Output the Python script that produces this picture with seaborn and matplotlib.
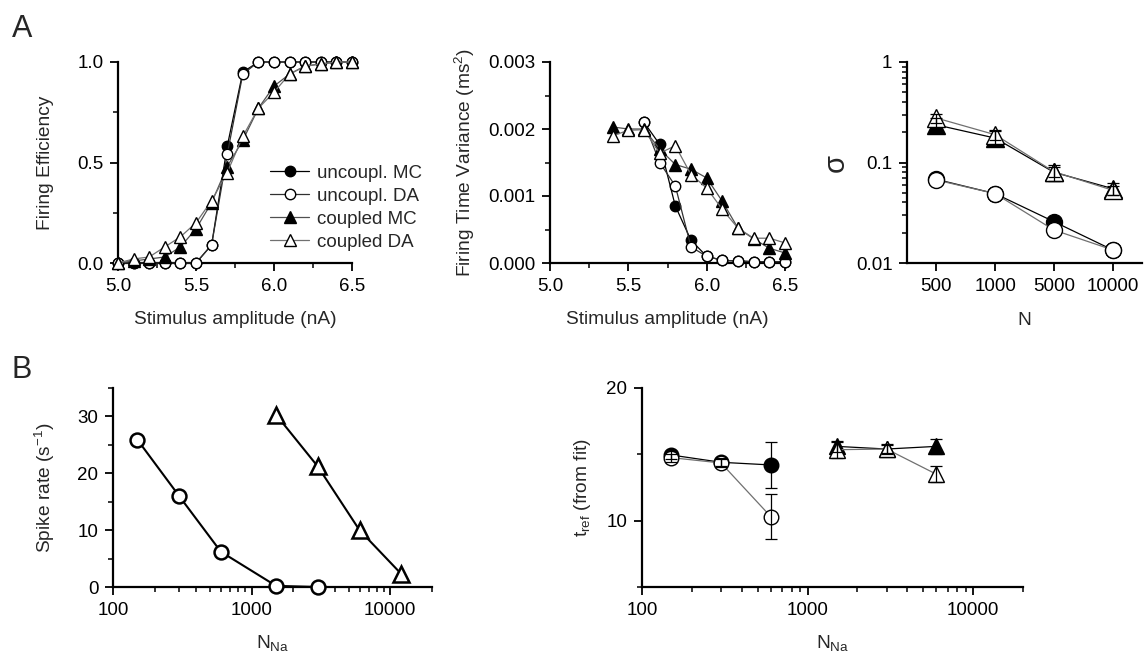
import numpy as np
import matplotlib
matplotlib.use('Agg')
import matplotlib.pyplot as plt
import seaborn as sns
from matplotlib.ticker import MultipleLocator, FixedLocator, LogLocator, NullFormatter, FuncFormatter
from matplotlib.lines import Line2D

sns.set_theme(style='ticks')
plt.rcParams['font.family'] = ['Liberation Sans', 'DejaVu Sans']
plt.rcParams['mathtext.fontset'] = 'custom'
plt.rcParams['mathtext.rm'] = 'Liberation Sans'
plt.rcParams['mathtext.it'] = 'Liberation Sans:italic'
plt.rcParams['mathtext.default'] = 'regular'

# ---------------- data ----------------
# Panel A1: firing efficiency
amp = [5.0, 5.1, 5.2, 5.3, 5.4, 5.5, 5.6, 5.7, 5.8, 5.9, 6.0, 6.1, 6.2, 6.3, 6.4, 6.5]
eff_unc_MC = [0, 0, 0, 0, 0, 0, 0.09, 0.58, 0.95, 1, 1, 1, 1, 1, 1, 1]
eff_unc_DA = [0, 0, 0, 0, 0, 0, 0.09, 0.54, 0.94, 1, 1, 1, 1, 1, 1, 1]
eff_cpl_MC = [0, 0.01, 0.02, 0.03, 0.08, 0.17, 0.30, 0.48, 0.61, 0.77, 0.88, 0.94, 0.98, 0.99, 1, 1]
eff_cpl_DA = [0, 0.02, 0.03, 0.08, 0.13, 0.20, 0.31, 0.45, 0.63, 0.77, 0.85, 0.94, 0.98, 0.99, 1, 1]

# Panel A2: firing time variance (ms^2)
amp_unc = [5.6, 5.7, 5.8, 5.9, 6.0, 6.1, 6.2, 6.3, 6.4, 6.5]
var_unc_MC = [0.0021, 0.00177, 0.00085, 0.00034, 0.0001, 0.00004, 0.00003, 0.00002, 0.00002, 0.00002]
var_unc_DA = [0.0021, 0.0015, 0.00115, 0.00024, 0.0001, 0.00004, 0.00003, 0.00002, 0.00002, 0.00002]
amp_cpl = [5.4, 5.5, 5.6, 5.7, 5.8, 5.9, 6.0, 6.1, 6.2, 6.3, 6.4, 6.5]
var_cpl_MC = [0.00203, 0.002, 0.002, 0.0017, 0.00147, 0.0014, 0.00127, 0.00092, 0.00052, 0.00036, 0.00022, 0.00015]
var_cpl_DA = [0.0019, 0.00198, 0.00199, 0.00164, 0.00175, 0.00132, 0.00112, 0.0008, 0.00052, 0.00037, 0.00037, 0.0003]

# Panel A3: sigma vs N
N_labels = ['500', '1000', '5000', '10000']
sig_unc_MC = [0.068, 0.049, 0.0258, 0.0135]
sig_unc_DA = [0.067, 0.049, 0.0213, 0.0135]
sig_cpl_MC = [0.237, 0.175, 0.080, 0.055]
sig_cpl_MC_err = [0.04, 0.03, 0.015, 0.008]
sig_cpl_DA = [0.277, 0.189, 0.081, 0.053]
sig_cpl_DA_err = [0.03, 0.02, 0.01, 0.006]

# Panel B1: spike rate
nna_unc = [150, 300, 600, 1500, 3000]
rate_unc = [25.9, 16.0, 6.2, 0.2, 0.0]
nna_cpl = [1500, 3000, 6000, 12000]
rate_cpl = [30.3, 21.2, 10.0, 2.3]

# Panel B2: t_ref (from fit)
nna_tu = [150, 300, 600]
tref_unc_MC = [14.95, 14.4, 14.2]
tref_unc_MC_err = [0.3, 0.3, 1.75]
tref_unc_DA = [14.75, 14.35, 10.3]
tref_unc_DA_err = [0.3, 0.3, 1.7]
nna_tc = [1500, 3000, 6000]
tref_cpl_MC = [15.6, 15.4, 15.6]
tref_cpl_MC_err = [0.4, 0.3, 0.55]
tref_cpl_DA = [15.35, 15.4, 13.5]
tref_cpl_DA_err = [0.6, 0.4, 0.6]

legend_labels = ['uncoupl. MC', 'uncoupl. DA', 'coupled MC', 'coupled DA']

# ---------------- figure ----------------
W, H = 1146, 660
fig = plt.figure(figsize=(W / 100, H / 100), dpi=100)
fig.patch.set_facecolor('white')

TICK_FS = 13.5
LAB_FS = 13.8


def axes_px(x0, x1, y0, y1):
    return fig.add_axes([x0 / W, 1 - y1 / H, (x1 - x0) / W, (y1 - y0) / H])


def style(ax):
    sns.despine(ax=ax)
    for s in ['left', 'bottom']:
        ax.spines[s].set_linewidth(1.6)
        ax.spines[s].set_color('black')
    ax.tick_params(which='major', direction='out', length=6, width=1.3, labelsize=TICK_FS,
                   colors='black', pad=4.5)
    ax.tick_params(which='minor', direction='out', length=3.5, width=1.1, colors='black')
    ax.set_facecolor('white')
    ax.grid(False)


def series(ax, x, y, marker, filled, lc, ms, mew=1.0, lw=0.9, z=3):
    sns.lineplot(x=x, y=y, ax=ax, color=lc, lw=lw, marker=marker, markersize=ms,
                 markerfacecolor='black' if filled else 'white', markeredgecolor='black',
                 markeredgewidth=mew, sort=False, estimator=None, legend=False,
                 zorder=z, clip_on=False)


def errs(ax, x, y, e, z=6, lw=0.9, cap=4.5):
    ax.errorbar(x, y, yerr=e, fmt='none', ecolor='black', elinewidth=lw, capsize=cap,
                capthick=lw, zorder=z, clip_on=False)


C_MC_U = 'black'
C_DA_U = '#303030'
C_MC_C = '#505050'
C_DA_C = '#707070'

# ---- A1 ----
ax1 = axes_px(118, 352, 62, 263)
series(ax1, amp, eff_unc_MC, 'o', True, C_MC_U, 7.5, z=3)
series(ax1, amp, eff_unc_DA, 'o', False, C_DA_U, 7.5, z=4)
series(ax1, amp, eff_cpl_MC, '^', True, C_MC_C, 8.5, z=5)
series(ax1, amp, eff_cpl_DA, '^', False, C_DA_C, 8.5, z=6)
ax1.set_xlim(5.0, 6.5)
ax1.set_ylim(0, 1.0)
ax1.xaxis.set_major_locator(FixedLocator([5.0, 5.5, 6.0, 6.5]))
ax1.xaxis.set_minor_locator(MultipleLocator(0.25))
ax1.yaxis.set_major_locator(FixedLocator([0.0, 0.5, 1.0]))
ax1.yaxis.set_minor_locator(MultipleLocator(0.25))
ax1.xaxis.set_major_formatter(FuncFormatter(lambda v, p: f'{v:.1f}'))
ax1.yaxis.set_major_formatter(FuncFormatter(lambda v, p: f'{v:.1f}'))
style(ax1)
ax1.set_xlabel('Stimulus amplitude (nA)', fontsize=LAB_FS)
ax1.set_ylabel('Firing Efficiency', fontsize=LAB_FS)
ax1.xaxis.set_label_coords(0.5, -0.24)
ax1.yaxis.set_label_coords(-0.275, 0.5)

handles = [
    Line2D([], [], color=C_MC_U, lw=0.9, marker='o', ms=7.5, mfc='black', mec='black'),
    Line2D([], [], color=C_DA_U, lw=0.9, marker='o', ms=7.5, mfc='white', mec='black'),
    Line2D([], [], color=C_MC_C, lw=0.9, marker='^', ms=8.5, mfc='black', mec='black'),
    Line2D([], [], color=C_DA_C, lw=0.9, marker='^', ms=8.5, mfc='white', mec='black'),
]
leg = ax1.legend(handles, legend_labels, loc='upper left', bbox_to_anchor=(0.65, 0.49),
                 frameon=False, fontsize=13.5, handlelength=2.1, handletextpad=0.4,
                 labelspacing=0.32, borderpad=0, borderaxespad=0)

# ---- A2 ----
ax2 = axes_px(550, 785, 62, 263)
series(ax2, amp_unc, var_unc_MC, 'o', True, C_MC_U, 7.5, z=3)
series(ax2, amp_unc, var_unc_DA, 'o', False, C_DA_U, 7.5, z=4)
series(ax2, amp_cpl, var_cpl_MC, '^', True, C_MC_C, 8.5, z=5)
series(ax2, amp_cpl, var_cpl_DA, '^', False, C_DA_C, 8.5, z=6)
ax2.set_xlim(5.0, 6.5)
ax2.set_ylim(0, 0.003)
ax2.xaxis.set_major_locator(FixedLocator([5.0, 5.5, 6.0, 6.5]))
ax2.xaxis.set_minor_locator(MultipleLocator(0.25))
ax2.yaxis.set_major_locator(FixedLocator([0.0, 0.001, 0.002, 0.003]))
ax2.yaxis.set_minor_locator(MultipleLocator(0.0005))
ax2.xaxis.set_major_formatter(FuncFormatter(lambda v, p: f'{v:.1f}'))
ax2.yaxis.set_major_formatter(FuncFormatter(lambda v, p: f'{v:.3f}'))
style(ax2)
ax2.set_xlabel('Stimulus amplitude (nA)', fontsize=LAB_FS)
ax2.set_ylabel('Firing Time Variance (ms$^2$)', fontsize=LAB_FS)
ax2.xaxis.set_label_coords(0.5, -0.24)
ax2.yaxis.set_label_coords(-0.31, 0.5)

# ---- A3 ----
ax3 = axes_px(907, 1142, 62, 263)
ax3.set_yscale('log')
pos = np.arange(len(N_labels))
series(ax3, pos, sig_unc_MC, 'o', True, C_MC_U, 11.5, z=3)
series(ax3, pos, sig_unc_DA, 'o', False, C_DA_C, 11.5, z=4)
series(ax3, pos, sig_cpl_MC, '^', True, C_MC_U, 12.5, z=3)
series(ax3, pos, sig_cpl_DA, '^', False, C_DA_C, 12.5, z=4)
errs(ax3, pos, sig_cpl_MC, sig_cpl_MC_err, cap=4)
errs(ax3, pos, sig_cpl_DA, sig_cpl_DA_err, cap=4)
ax3.set_xlim(-0.5, 3.5)
ax3.set_ylim(0.01, 1)
ax3.set_xticks(pos)
ax3.set_xticklabels(N_labels)
ax3.xaxis.set_minor_locator(FixedLocator([]))
ax3.yaxis.set_major_locator(FixedLocator([0.01, 0.1, 1]))
ax3.yaxis.set_minor_locator(LogLocator(base=10, subs=np.arange(2, 10)))
ax3.yaxis.set_minor_formatter(NullFormatter())
ax3.yaxis.set_major_formatter(FuncFormatter(lambda v, p: f'{v:g}'))
style(ax3)
ax3.set_xlabel('N', fontsize=LAB_FS)
ax3.set_ylabel('σ', fontsize=21)
ax3.xaxis.set_label_coords(0.5, -0.245)
ax3.yaxis.set_label_coords(-0.243, 0.5)

# ---- B1 ----
ax4 = axes_px(113, 432, 388, 587)
ax4.set_xscale('log')
series(ax4, nna_unc, rate_unc, 'o', False, 'black', 10, mew=1.8, lw=1.5, z=4)
series(ax4, nna_cpl, rate_cpl, '^', False, 'black', 11, mew=1.8, lw=1.5, z=4)
ax4.set_xlim(100, 20000)
ax4.set_ylim(0, 35)
ax4.xaxis.set_major_locator(FixedLocator([100, 1000, 10000]))
ax4.xaxis.set_minor_locator(LogLocator(base=10, subs=np.arange(2, 10)))
ax4.xaxis.set_minor_formatter(NullFormatter())
ax4.xaxis.set_major_formatter(FuncFormatter(lambda v, p: f'{v:g}'))
ax4.yaxis.set_major_locator(FixedLocator([0, 10, 20, 30]))
ax4.yaxis.set_minor_locator(FixedLocator([5, 15, 25, 35]))
style(ax4)
ax4.set_xlabel('N$_{Na}$', fontsize=LAB_FS)
ax4.set_ylabel('Spike rate (s$^{-1}$)', fontsize=LAB_FS)
ax4.xaxis.set_label_coords(0.5, -0.23)
ax4.yaxis.set_label_coords(-0.176, 0.5)

# ---- B2 ----
ax5 = axes_px(642, 1023, 388, 587)
ax5.set_xscale('log')
series(ax5, nna_tu, tref_unc_MC, 'o', True, C_MC_U, 10.5, z=3)
series(ax5, nna_tu, tref_unc_DA, 'o', False, C_DA_C, 10.5, z=4)
series(ax5, nna_tc, tref_cpl_MC, '^', True, C_MC_U, 11, z=3)
series(ax5, nna_tc, tref_cpl_DA, '^', False, C_DA_C, 11, z=4)
errs(ax5, nna_tu, tref_unc_MC, tref_unc_MC_err)
errs(ax5, nna_tu, tref_unc_DA, tref_unc_DA_err)
errs(ax5, nna_tc, tref_cpl_MC, tref_cpl_MC_err)
errs(ax5, nna_tc, tref_cpl_DA, tref_cpl_DA_err)
ax5.set_xlim(100, 20000)
ax5.set_ylim(5, 20)
ax5.xaxis.set_major_locator(FixedLocator([100, 1000, 10000]))
ax5.xaxis.set_minor_locator(LogLocator(base=10, subs=np.arange(2, 10)))
ax5.xaxis.set_minor_formatter(NullFormatter())
ax5.xaxis.set_major_formatter(FuncFormatter(lambda v, p: f'{v:g}'))
ax5.yaxis.set_major_locator(FixedLocator([10, 20]))
ax5.yaxis.set_minor_locator(FixedLocator([5, 15]))
style(ax5)
ax5.set_xlabel('N$_{Na}$', fontsize=LAB_FS)
ax5.set_ylabel('t$_{ref}$ (from fit)', fontsize=LAB_FS)
ax5.xaxis.set_label_coords(0.5, -0.23)
ax5.yaxis.set_label_coords(-0.129, 0.5)

# panel letters
fig.text(12 / W, 1 - 37 / H, 'A', fontsize=22, va='baseline', ha='left')
fig.text(12 / W, 1 - 378 / H, 'B', fontsize=22, va='baseline', ha='left')

fig.savefig('out.png', dpi=100, facecolor='white')
